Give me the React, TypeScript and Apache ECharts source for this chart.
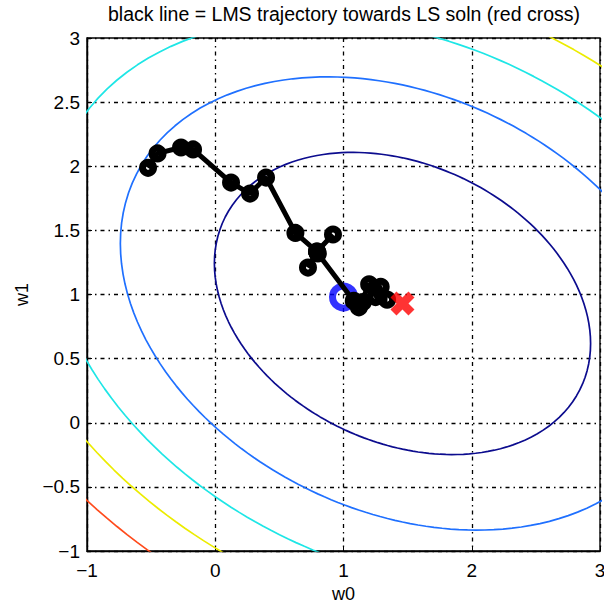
import React, { useEffect, useRef } from "react";
import * as echarts from "echarts";

// LMS trajectory (w0, w1)
const trajW0 = [-0.524, -0.45, -0.267, -0.173, 0.123, 0.271, 0.396, 0.625, 0.793, 0.918, 0.793, 0.723, 0.8, 1.08, 1.12, 1.2, 1.29, 1.25, 1.34, 1.15];
const trajW1 = [1.988, 2.1, 2.146, 2.131, 1.873, 1.787, 1.912, 1.48, 1.335, 1.468, 1.335, 1.21, 1.32, 0.95, 0.9, 1.08, 1.06, 0.98, 0.96, 0.94];

// blue circle (true weights) and red cross (LS solution)
const trueW = [1.0, 0.98];
const lsSoln = [1.46, 0.93];

// quadratic error surface around the LS solution: [h00, h01, h11]
const errorHessian = [1, 0.33, 1.55];
// contour levels of the error surface and their colours
const contourLevels = [2.0, 4.5, 7.1, 9.6, 12.2];
const contourColors = ["#0c0c8e", "#1f70ff", "#1ee6e6", "#ecec00", "#ff4b1c"];

const xTicks = [-1, 0, 1, 2, 3];
const yTicks = [-1, -0.5, 0, 0.5, 1, 1.5, 2, 2.5, 3];

const titleText = "black line = LMS trajectory towards LS soln (red cross)";

function contourLine(level: number): number[][] {
  const pts: number[][] = [];
  for (let i = 0; i <= 360; i += 2) {
    const t = (i * Math.PI) / 180;
    const c = Math.cos(t);
    const s = Math.sin(t);
    const q = errorHessian[0] * c * c + 2 * errorHessian[1] * c * s + errorHessian[2] * s * s;
    const r = Math.sqrt(level / q);
    pts.push([lsSoln[0] + r * c, lsSoln[1] + r * s]);
  }
  return pts;
}

const fmt = (v: number) => String(v).replace("-", "\u2212");

export default function App() {
  const ref = useRef<HTMLDivElement>(null);
  useEffect(() => {
    if (!ref.current) return;
    const chart = echarts.init(ref.current, null, { renderer: "svg" });
    const font = "Liberation Sans, Arial, Helvetica, sans-serif";
    const gridLine = { show: true, lineStyle: { color: "#000", width: 1.3, type: [4, 4, 1.5, 4] as any } };
    const contourSeries = contourLevels.map((lv, i) => ({
      type: "line",
      data: contourLine(lv),
      showSymbol: false,
      symbol: "none",
      smooth: false,
      clip: true,
      lineStyle: { color: contourColors[i], width: 1.7 },
      z: 2,
    }));
    chart.setOption({
      animation: false,
      backgroundColor: "#fff",
      grid: {
        left: 87,
        top: 38,
        right: 4,
        bottom: 52,
        outerBoundsMode: "none",
        containLabel: false,
        show: true,
        borderColor: "#000",
        borderWidth: 1.4,
        backgroundColor: "transparent",
      },
      graphic: [
        {
          type: "text",
          x: 344,
          y: 14,
          style: { text: titleText, textAlign: "center", textVerticalAlign: "middle", font: `19.5px ${font}`, fill: "#000" },
        },
      ],
      xAxis: {
        type: "value",
        min: -1,
        max: 3,
        interval: 1,
        name: "w0",
        nameLocation: "middle",
        nameGap: 26,
        nameTextStyle: { fontFamily: font, fontSize: 18, color: "#000" },
        axisLine: { show: true, onZero: false, lineStyle: { color: "#000", width: 1.4 } },
        axisTick: { show: true, inside: true, length: 5, lineStyle: { color: "#000" } },
        axisLabel: { formatter: fmt, fontFamily: font, fontSize: 19, color: "#000", margin: 10 },
        splitLine: gridLine,
      },
      yAxis: {
        type: "value",
        min: -1,
        max: 3,
        interval: 0.5,
        name: "w1",
        nameLocation: "middle",
        nameGap: 56,
        nameRotate: 90,
        nameTextStyle: { fontFamily: font, fontSize: 18, color: "#000" },
        axisLine: { show: true, onZero: false, lineStyle: { color: "#000", width: 1.4 } },
        axisTick: { show: true, inside: true, length: 5, lineStyle: { color: "#000" } },
        axisLabel: { formatter: fmt, fontFamily: font, fontSize: 19, color: "#000", margin: 7 },
        splitLine: gridLine,
      },
      series: [
        ...contourSeries,
        {
          type: "scatter",
          data: [trueW],
          symbol: "circle",
          symbolSize: 22,
          itemStyle: { color: "rgba(0,0,0,0)", borderColor: "#0000ff", borderWidth: 7 },
          z: 3,
        },
        {
          type: "line",
          data: trajW0.map((x, i) => [x, trajW1[i]]),
          symbol: "circle",
          symbolSize: 11,
          showSymbol: true,
          lineStyle: { color: "#000", width: 5 },
          itemStyle: { color: "rgba(0,0,0,0)", borderColor: "#000", borderWidth: 7 },
          z: 4,
        },
        {
          type: "scatter",
          data: [lsSoln],
          symbol: "path://M5,0 L10,5 L15,0 L20,5 L15,10 L20,15 L15,20 L10,15 L5,20 L0,15 L5,10 L0,5 Z",
          symbolSize: 24,
          itemStyle: { color: "#ff0000" },
          z: 5,
        },
      ],
    });
    return () => chart.dispose();
  }, []);
  return <div ref={ref} style={{ position: "fixed", left: 0, top: 0, width: 604, height: 603 }} />;
}
